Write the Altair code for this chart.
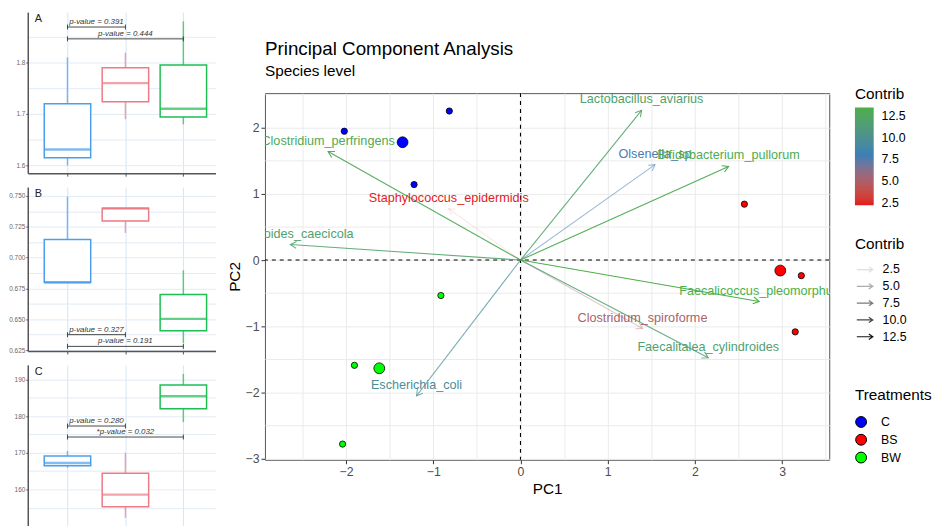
import altair as alt
import pandas as pd

FONT = "Liberation Sans"

# ---------------- box-plot panels (left column) ----------------
groups = ["C", "BS", "BW"]
box_colors = ["#4C9EEB", "#EE7A84", "#1DBF55"]

# Panel A
A_lower = [1.600, 1.690, 1.680]
A_q1 = [1.615, 1.724, 1.694]
A_median = [1.631, 1.760, 1.710]
A_q3 = [1.720, 1.790, 1.795]
A_upper = [1.810, 1.819, 1.880]
A_ticks = [1.6, 1.7, 1.8]
A_grid = [1.6, 1.65, 1.7, 1.75, 1.8, 1.85]
A_pair_from = ["C", "C"]
A_pair_to = ["BS", "BW"]
A_pair_y = [1.869, 1.846]
A_pvalues = ["p-value = 0.391", "p-value = 0.444"]

# Panel B
B_lower = [0.6797, 0.720, 0.6308]
B_q1 = [0.6797, 0.7297, 0.6407]
B_median = [0.6800, 0.7398, 0.6503]
B_q3 = [0.7146, 0.7400, 0.6700]
B_upper = [0.7494, 0.7400, 0.6897]
B_ticks = [0.625, 0.650, 0.675, 0.700, 0.725, 0.750]
B_grid = [0.625, 0.6375, 0.650, 0.6625, 0.675, 0.6875, 0.700, 0.7125, 0.725, 0.7375, 0.750]
B_pair_from = ["C", "C"]
B_pair_to = ["BS", "BW"]
B_pair_y = [0.6375, 0.628]
B_pvalues = ["p-value = 0.327", "p-value = 0.191"]

# Panel C
C_lower = [165.9, 152.3, 178.4]
C_q1 = [166.5, 155.3, 182.0]
C_median = [167.2, 158.6, 185.4]
C_q3 = [169.1, 164.4, 188.5]
C_upper = [170.5, 170.0, 191.5]
C_ticks = [160, 170, 180, 190]
C_grid = [150, 155, 160, 165, 170, 175, 180, 185, 190]
C_pair_from = ["C", "C"]
C_pair_to = ["BS", "BW"]
C_pair_y = [177.3, 174.3]
C_pvalues = ["p-value = 0.280", "*p-value = 0.032"]

# ---------------- PCA biplot ----------------
ind_group = ["C", "C", "C", "BS", "BS", "BS", "BW", "BW", "BW"]
ind_pc1 = [-2.02, -1.22, -0.816, 2.567, 3.22, 3.15, -0.913, -1.904, -2.04]
ind_pc2 = [1.945, 1.14, 2.25, 0.844, -0.235, -1.084, -0.535, -1.589, -2.778]

var_names = ["Lactobacillus_aviarius", "Olsenella_sp", "Bifidobacterium_pullorum",
             "Clostridium_perfringens", "Bacteroides_caecicola", "Staphylococcus_epidermidis",
             "Escherichia_coli", "Faecalicoccus_pleomorphus", "Clostridium_spiroforme",
             "Faecalitalea_cylindroides"]
var_pc1 = [1.388, 1.542, 2.386, -2.206, -2.638, -0.823, -1.192, 2.737, 1.399, 2.153]
var_pc2 = [2.26, 1.44, 1.414, 1.639, 0.235, 0.775, -2.05, -0.625, -1.034, -1.474]
var_contrib = [12.05, 7.63, 13.18, 12.94, 12.02, 2.19, 9.64, 13.51, 5.19, 11.67]

x_major = [-2, -1, 0, 1, 2, 3]
x_grid = [-2.5, -2, -1.5, -1, -0.5, 0, 0.5, 1, 1.5, 2, 2.5, 3, 3.5]
y_major = [-3, -2, -1, 0, 1, 2]
y_grid = [-3, -2.5, -2, -1.5, -1, -0.5, 0, 0.5, 1, 1.5, 2, 2.5]
legend_values = [2.5, 5.0, 7.5, 10.0, 12.5]
treat_colors = ["#0000FF", "#FF0000", "#00FF00"]

NO_VIEW = alt.ViewBackground(stroke="transparent")


def box_panel(letter, lower, q1, med, q3, upper, ticks, grid, fmt, ydom, height,
              p_from, p_to, p_y, p_text):
    df = pd.DataFrame({"group": groups, "lower": lower, "q1": q1, "median": med,
                       "q3": q3, "upper": upper})
    bdf = pd.DataFrame({"g1": p_from, "g2": p_to, "y": p_y, "label": p_text})
    ldf = pd.DataFrame({"letter": [letter]})
    xs = alt.Scale(domain=[-0.6, 2.47], nice=False, zero=False)
    ys = alt.Scale(domain=ydom, nice=False, zero=False)
    xax = alt.Axis(values=[0, 1, 2], labels=False, title=None, grid=True,
                   gridColor="#D3E5F7", tickSize=3, tickColor="#555",
                   domainColor="#555", domainWidth=1.5)
    test = f"indexof({ticks}, datum.value) >= 0"
    yax = alt.Axis(values=grid, title=None, grid=True, gridColor="#E3EBF3",
                   labelExpr=f"{test} ? format(datum.value, '{fmt}') : ''",
                   tickOpacity={"condition": {"test": test, "value": 1}, "value": 0},
                   tickSize=2, tickColor="#555", labelFontSize=6.5, labelColor="#666",
                   labelPadding=1, domainColor="#555", domainWidth=1.5, minExtent=0)

    def X(f):
        return alt.X(f, type="quantitative", scale=xs, axis=xax)

    def Y(f):
        return alt.Y(f, type="quantitative", scale=ys, axis=yax)

    sc = alt.Scale(domain=groups, range=box_colors)
    idx = "indexof(['C','BS','BW'], datum.group)"
    base = alt.Chart(df).transform_calculate(xi=idx)
    whisk = base.mark_rule(strokeWidth=1.5, opacity=0.7).encode(
        x=X("xi"), y=Y("lower"), y2="upper:Q",
        color=alt.Color("group:N", scale=sc, legend=None))
    box = base.mark_bar(width=47, fill="white", strokeWidth=1.5).encode(
        x=X("xi"), y=Y("q1"), y2="q3:Q",
        stroke=alt.Stroke("group:N", scale=sc, legend=None))
    med_t = base.mark_tick(orient="horizontal", size=47, thickness=2.5).encode(
        x=X("xi"), y=Y("median"),
        color=alt.Color("group:N", scale=sc, legend=None))
    bbase = alt.Chart(bdf).transform_calculate(
        xa="indexof(['C','BS','BW'], datum.g1)",
        xb="indexof(['C','BS','BW'], datum.g2)",
        xm="(indexof(['C','BS','BW'], datum.g1) + indexof(['C','BS','BW'], datum.g2)) / 2")
    bline = bbase.mark_rule(color="#333", strokeWidth=0.9).encode(
        x=X("xa"), x2="xb:Q", y=Y("y"))
    bends = bbase.transform_fold(["xa", "xb"], as_=["end", "xe"]).mark_point(
        shape="M0,-1L0,1", size=25, color="#333", strokeWidth=0.9, filled=False,
        opacity=1).encode(x=X("xe"), y=Y("y"))
    btxt = bbase.mark_text(fontSize=8, fontStyle="italic", dy=-5, color="#333").encode(
        x=X("xm"), y=Y("y"), text="label:N")
    ltxt = alt.Chart(ldf).mark_text(fontSize=11, align="left", baseline="top",
                                    color="#222").encode(
        x=alt.value(7), y=alt.value(1), text="letter:N")
    return alt.layer(whisk, box, med_t, bline, bends, btxt, ltxt).properties(
        width=190, height=height, view=NO_VIEW)


panelA = box_panel("A", A_lower, A_q1, A_median, A_q3, A_upper, A_ticks, A_grid, ".1f",
                   [1.585, 1.898], 163, A_pair_from, A_pair_to, A_pair_y, A_pvalues)
panelB = box_panel("B", B_lower, B_q1, B_median, B_q3, B_upper, B_ticks, B_grid, ".3f",
                   [0.6242, 0.7572], 166, B_pair_from, B_pair_to, B_pair_y, B_pvalues)
panelC = box_panel("C", C_lower, C_q1, C_median, C_q3, C_upper, C_ticks, C_grid, "d",
                   [148.7, 193.96], 168, C_pair_from, C_pair_to, C_pair_y, C_pvalues)
left = alt.vconcat(panelA, panelB, panelC, spacing=9).resolve_scale(
    color="independent", stroke="independent")

# ---------------- main biplot ----------------
W, H = 571, 371
XD = [-2.93, 3.54]
YD = [-3.015, 2.52]
SX = W / (XD[1] - XD[0])
SY = H / (YD[1] - YD[0])
LX = 597

pts_df = pd.DataFrame({"group": ind_group, "pc1": ind_pc1, "pc2": ind_pc2})
var_df = pd.DataFrame({"name": var_names, "pc1": var_pc1, "pc2": var_pc2,
                       "contrib": var_contrib})
zero_df = pd.DataFrame({"pc1": [0.0], "pc2": [0.0]})

xs = alt.Scale(domain=XD, nice=False, zero=False)
ys = alt.Scale(domain=YD, nice=False, zero=False)
xtest = f"indexof({x_major}, datum.value) >= 0"
ytest = f"indexof({y_major}, datum.value) >= 0"
x_axis = alt.Axis(values=x_grid, labelExpr=f"{xtest} ? format(datum.value, 'd') : ''",
                  tickOpacity={"condition": {"test": xtest, "value": 1}, "value": 0},
                  gridColor="#EBEBEB", domain=False, tickColor="#333", tickSize=4,
                  labelColor="#4D4D4D", labelFontSize=12.4, labelPadding=2,
                  titleFontSize=15.5, titleFontWeight="normal", titleColor="black",
                  titlePadding=4)
y_axis = alt.Axis(values=y_grid, labelExpr=f"{ytest} ? format(datum.value, 'd') : ''",
                  tickOpacity={"condition": {"test": ytest, "value": 1}, "value": 0},
                  gridColor="#EBEBEB", domain=False, tickColor="#333", tickSize=4,
                  labelColor="#4D4D4D", labelFontSize=12.4, labelPadding=2,
                  titleFontSize=15.5, titleFontWeight="normal", titleColor="black",
                  titlePadding=3)


def MX():
    return alt.X("pc1:Q", scale=xs, axis=x_axis, title="PC1")


def MY():
    return alt.Y("pc2:Q", scale=ys, axis=y_axis, title="PC2")


def color_scale():
    return alt.Scale(domain=[2.19, 7.85, 13.51],
                     range=["#E41A1C", "#377EB8", "#4DAF4A"], interpolate="lab")


col = alt.Color("contrib:Q", scale=color_scale(),
                legend=alt.Legend(type="gradient", title="Contrib", orient="none",
                                  legendX=LX, legendY=-6,
                                  direction="vertical", gradientLength=99,
                                  gradientThickness=19, values=legend_values, format=".1f",
                                  titleFontSize=15.5, labelFontSize=12.5,
                                  titleFontWeight="normal", labelOffset=8, titlePadding=5,
                                  gradientStrokeWidth=0, padding=0, labelColor="black",
                                  titleColor="black"))
col_nolegend = alt.Color("contrib:Q", scale=color_scale(), legend=None)
ARROW = "M-0.9,0L0.9,0M0.45,-0.3L0.9,0L0.45,0.3"
opa = alt.Opacity("contrib_w:Q", scale=alt.Scale(domain=[2.19, 13.51], range=[0.1, 1]),
                  legend=alt.Legend(title="Contrib", orient="none", legendX=LX,
                                    legendY=146, values=legend_values, format=".1f",
                                    symbolType=ARROW, symbolSize=324,
                                    symbolStrokeColor="black", symbolStrokeWidth=1.2,
                                    symbolFillColor="transparent", rowPadding=0,
                                    labelOffset=8, titlePadding=7, padding=0,
                                    titleFontSize=15.5, labelFontSize=12.5,
                                    titleFontWeight="normal", labelColor="black",
                                    titleColor="black"))
fill = alt.Fill("group:N", scale=alt.Scale(domain=groups, range=treat_colors),
                legend=alt.Legend(title="Treatments", orient="none", legendX=LX,
                                  legendY=299, symbolType="circle", symbolSize=121,
                                  symbolStrokeColor="black", symbolStrokeWidth=1,
                                  rowPadding=2, labelOffset=14, titlePadding=12, padding=0,
                                  titleFontSize=15.5, labelFontSize=12.5,
                                  titleFontWeight="normal", labelColor="black",
                                  titleColor="black", symbolOpacity=1))

vline = alt.Chart(zero_df).mark_rule(color="black", strokeDash=[4, 4], strokeWidth=1.1).encode(x=MX())
hline = alt.Chart(zero_df).mark_rule(color="black", strokeDash=[4, 4], strokeWidth=1.1).encode(y=MY())
shafts = alt.Chart(var_df).transform_calculate(contrib_w="datum.contrib").mark_rule(
    strokeWidth=1.1).encode(
    x=MX(), y=MY(), x2=alt.datum(0), y2=alt.datum(0), color=col, opacity=opa)
heads = alt.Chart(var_df).transform_calculate(
    contrib_w="datum.contrib",
    ang=f"(atan2(datum.pc1 * {SX}, datum.pc2 * {SY}) * 180 / PI + 360) % 360"
).mark_point(shape="M-0.5,0.866L0,0L0.5,0.866", size=196, filled=False,
             strokeWidth=1.1).encode(
    x=MX(), y=MY(), angle=alt.Angle("ang:Q", scale=None), color=col_nolegend, opacity=opa)
labels = alt.Chart(var_df).mark_text(dy=-11, fontSize=12.8, clip=True).encode(
    x=MX(), y=MY(), text="name:N", color=col_nolegend)
pts = alt.Chart(pts_df).mark_point(filled=True, size=40, stroke="black", strokeWidth=0.8,
                                   opacity=1).encode(x=MX(), y=MY(), fill=fill)
cent = alt.Chart(pts_df).transform_aggregate(
    pc1="mean(pc1)", pc2="mean(pc2)", groupby=["group"]
).mark_point(filled=True, size=120, stroke="black", strokeWidth=0.8, opacity=1).encode(
    x=MX(), y=MY(), fill=fill)

main = alt.layer(vline, hline, shafts, heads, labels, pts, cent).resolve_scale(
    color="independent").properties(
    width=W, height=H,
    view=alt.ViewBackground(stroke="#555", strokeWidth=1),
    title=alt.TitleParams("Principal Component Analysis", subtitle="Species level",
                          anchor="start", frame="group", fontSize=19,
                          subtitleFontSize=15.5, fontWeight="normal", color="black",
                          subtitleColor="black", offset=8, subtitlePadding=5))

spacer = alt.Chart(zero_df).mark_point(opacity=0, size=1).encode(
    x=alt.value(5), y=alt.value(10)).properties(width=10, height=27, view=NO_VIEW)
right = alt.vconcat(spacer, main, spacing=0).resolve_scale(
    color="independent", fill="independent", opacity="independent")

chart = alt.hconcat(left, right, spacing=10).resolve_scale(
    color="independent", fill="independent", opacity="independent",
    stroke="independent").properties(padding=0).configure(font=FONT)
chart.save("out.html", embed_options={"renderer": "svg", "actions": False})
